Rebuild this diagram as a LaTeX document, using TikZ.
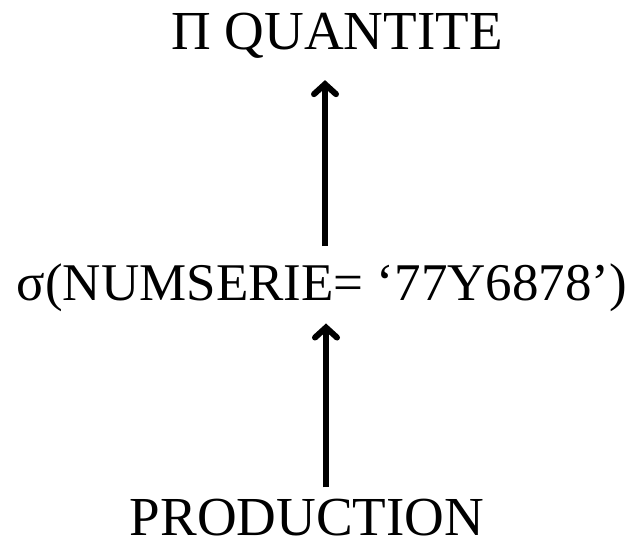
\documentclass[tikz,border=0pt]{standalone}
\usepackage{fontspec}
\setmainfont{Liberation Serif}
\usepackage{tikz}
\usetikzlibrary{arrows.meta}

\begin{document}
\begin{tikzpicture}[
  x=1pt, y=-1pt,
  op/.style={font=\fontsize{55}{66}\selectfont, inner sep=0pt, anchor=base},
  arr/.style={-{Straight Barb[length=10pt,width=22pt,line cap=round]}, line width=6pt}
]
\useasboundingbox (0,0) rectangle (637,548);
\node[op] (proj) at (337,50) {Π QUANTITE};
\node[op, font=\fontsize{53}{64}\selectfont] (sel) at (322,300) {σ(NUMSERIE= ‘77Y6878’)};
\node[op] (rel) at (307,535) {PRODUCTION};
\coordinate (axis1) at (325,0);
\coordinate (axis2) at (326,0);
\draw[arr] ([yshift=17pt]sel.north -| axis1) -- ([yshift=-21pt]proj.south -| axis1);
\draw[arr] ([yshift=11pt]rel.north -| axis2) -- ([yshift=-12pt]sel.south -| axis2);
\end{tikzpicture}
\end{document}
